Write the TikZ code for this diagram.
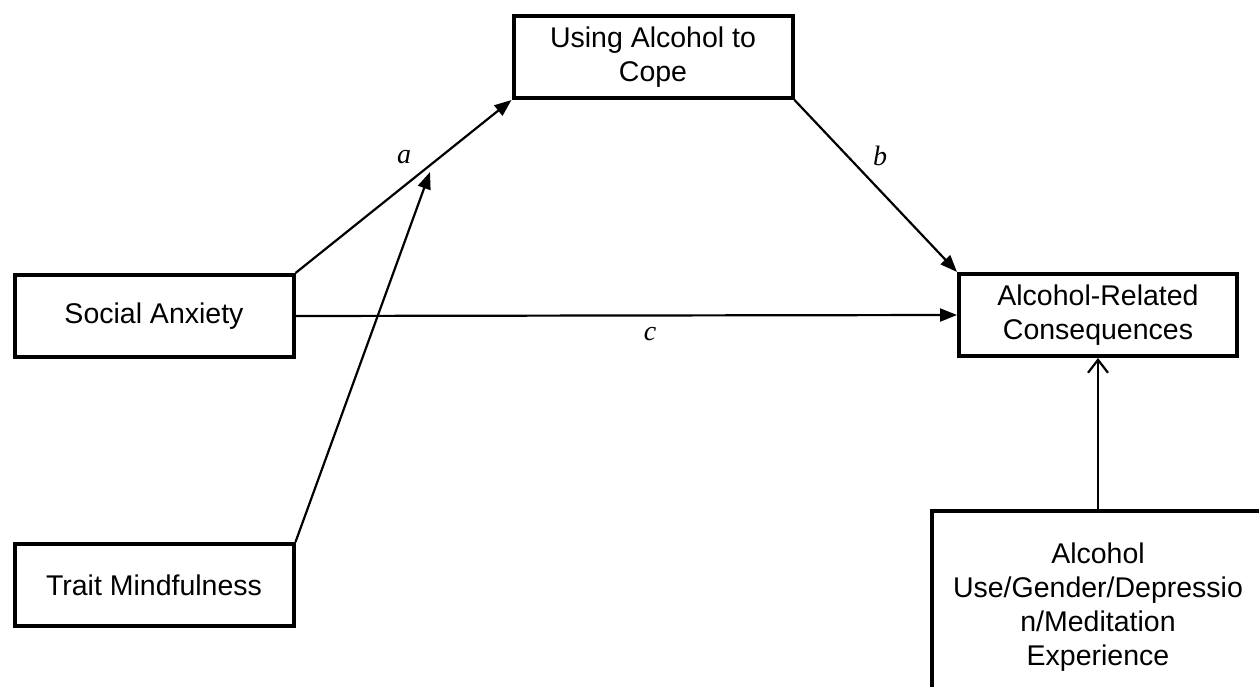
\documentclass[tikz,border=0pt]{standalone}
\usepackage{fontspec}
\setmainfont{Liberation Sans}
\newfontfamily\labelfont{Liberation Serif}
\usetikzlibrary{arrows.meta}
\begin{document}
\begin{tikzpicture}[x=1pt,y=-1pt,
  varbox/.style={draw=black,line width=4pt,fill=white,inner sep=0pt,align=center,
    font=\fontsize{28.5}{34}\selectfont,minimum width=279pt,minimum height=82pt},
  path/.style={line width=2.2pt,-{Triangle[length=17pt,width=13pt]}},
  covpath/.style={line width=2.2pt,-{Straight Barb[length=13pt,width=20pt,line width=2.2pt]}},
  coef/.style={font=\labelfont\itshape\fontsize{28}{30}\selectfont,inner sep=0pt}]
\clip (0,0) rectangle (1259,687);
\fill[white] (0,0) rectangle (1259,687);

% variables
\node[varbox] (cope) at (653,57) {Using Alcohol to\\Cope};
\node[varbox] (anx) at (154,316) {Social Anxiety};
\node[varbox] (mind) at (154,585) {Trait Mindfulness};
\node[varbox,minimum width=278pt] (cons) at (1098,315) {Alcohol-Related\\Consequences};
\node[varbox,minimum width=332pt,minimum height=192pt] (cov) at (1098,607)
  {Alcohol\\Use/Gender/Depressio\\n/Meditation\\Experience};

% moderation target on the a path
\coordinate (mod) at (430,172);

% paths
\draw[path] (anx.north east) -- (cope.south west);
\draw[path] (cope.south east) -- (cons.north west);
\draw[path] (anx.east) -- (cons.west);
\draw[path] (mind.north east) -- (mod);
\draw[covpath] (cov.north) -- (cons.south);

% path coefficients
\node[coef] (la) at (404,157) {a};
\node[coef] (lb) at (880,156) {b};
\node[coef] (lc) at (650,334) {c};
\end{tikzpicture}
\end{document}
